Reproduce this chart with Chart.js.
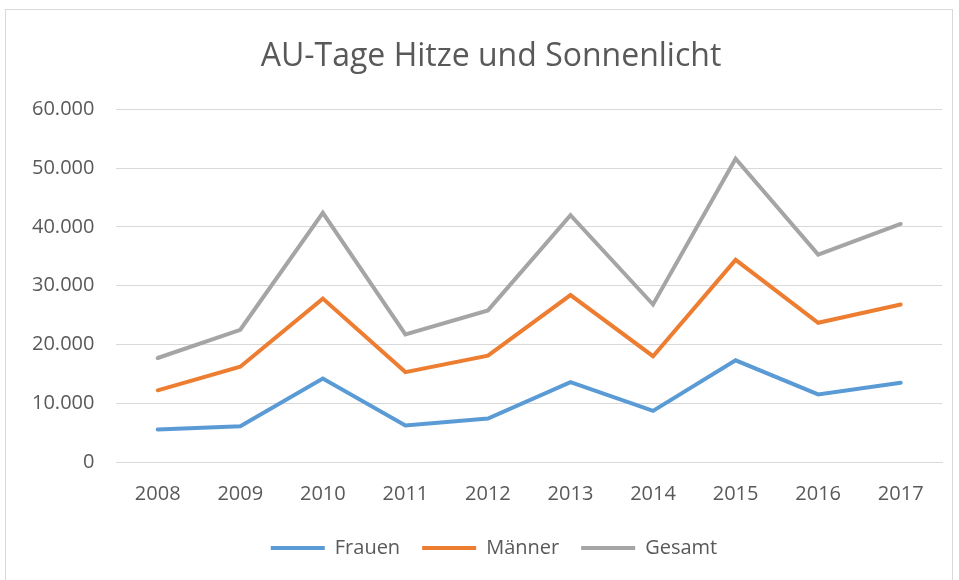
<!DOCTYPE html>
<html>
<head>
<meta charset="utf-8">
<script src="https://cdn.jsdelivr.net/npm/chart.js@4/dist/chart.umd.min.js"></script>
<style>
html,body{margin:0;padding:0;background:#fff;}
#wrap{position:absolute;left:5px;top:9px;width:948px;height:580px;border:1px solid #d9d9d9;box-sizing:border-box;}
#c{position:absolute;left:0;top:0;}
</style>
</head>
<body>
<div id="wrap"></div>
<canvas id="c" width="959" height="580"></canvas>
<script>
const categories = ["2008","2009","2010","2011","2012","2013","2014","2015","2016","2017"];
const frauen = [5550, 6100, 14200, 6200, 7400, 13600, 8700, 17300, 11500, 13500];
const maenner = [12200, 16200, 27800, 15300, 18100, 28400, 18000, 34400, 23700, 26800];
const gesamt = [17700, 22500, 42400, 21700, 25800, 42000, 26800, 51600, 35300, 40500];
const seriesNames = ["Frauen", "Männer", "Gesamt"];
const seriesColors = ["#5B9BD5", "#ED7D31", "#A5A5A5"];
const yMin = 0, yMax = 60000, yStep = 10000;

function fmt(v){ return String(Math.round(v)).replace(/\B(?=(\d{3})+(?!\d))/g, "."); }

const FONT = "'Open Sans', 'Liberation Sans', sans-serif";
const mk = (label, data, color) => ({
  label, data, borderColor: color, backgroundColor: color,
  borderWidth: 4, pointRadius: 0, pointHoverRadius: 0, tension: 0,
  pointStyle: 'line', borderCapStyle: 'round', borderJoinStyle: 'miter'
});

// shift title and legend horizontally to be centred like the reference
const shiftBoxes = {
  id: 'shiftBoxes',
  afterLayout(chart) {
    if (chart.titleBlock) { chart.titleBlock.left += 15; chart.titleBlock.right += 15; }
    if (chart.legend) { chart.legend.left += 18; chart.legend.right += 18; }
  }
};

new Chart(document.getElementById('c'), {
  type: 'line',
  data: {
    labels: categories,
    datasets: [
      mk(seriesNames[0], frauen, seriesColors[0]),
      mk(seriesNames[1], maenner, seriesColors[1]),
      mk(seriesNames[2], gesamt, seriesColors[2])
    ]
  },
  plugins: [shiftBoxes],
  options: {
    responsive: false,
    animation: false,
    devicePixelRatio: 1,
    layout: { padding: { left: 10, right: 17, top: 38, bottom: 12 } },
    plugins: {
      title: {
        display: true, text: 'AU-Tage Hitze und Sonnenlicht',
        color: '#595959', font: { family: FONT, size: 32, weight: 'normal' },
        padding: { top: 0, bottom: 33 }
      },
      legend: {
        position: 'bottom',
        labels: {
          usePointStyle: true, pointStyle: 'line', pointStyleWidth: 54,
          color: '#595959', font: { family: FONT, size: 20 }, padding: 22, boxHeight: 10
        }
      },
      tooltip: { enabled: false }
    },
    scales: {
      x: {
        offset: true,
        grid: { display: false, drawTicks: false },
        border: { color: '#d9d9d9', width: 1 },
        ticks: { color: '#595959', font: { family: FONT, size: 20 }, padding: 20 },
        afterFit: (scale) => { scale.height -= 10; }
      },
      y: {
        min: yMin, max: yMax,
        grid: { color: '#d9d9d9', lineWidth: 1, drawTicks: false },
        border: { display: false },
        ticks: { stepSize: yStep, color: '#595959', font: { family: FONT, size: 20 }, padding: 22, callback: v => fmt(v) }
      }
    }
  }
});
</script>
</body>
</html>
